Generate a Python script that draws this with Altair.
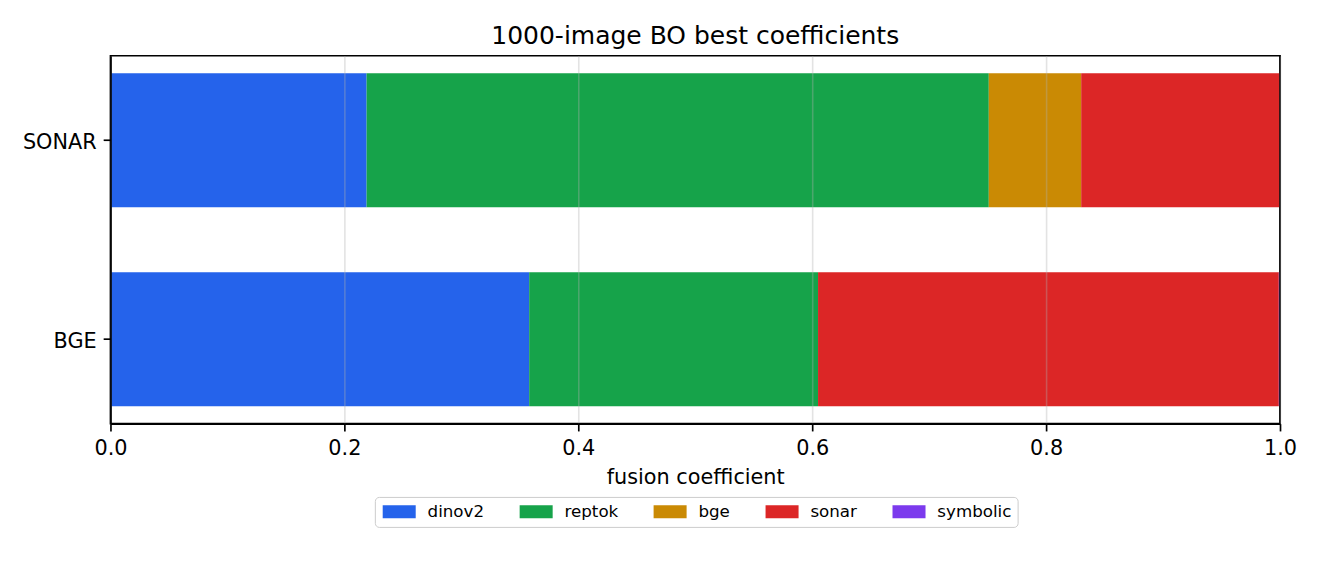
import altair as alt
import pandas as pd

MODELS = ["SONAR", "BGE"]
COMPONENTS = ["dinov2", "reptok", "bge", "sonar", "symbolic"]
COLORS = ["#2563eb", "#16a34a", "#ca8a04", "#dc2626", "#7c3aed"]

# best fusion coefficients per model, in component order
SONAR_COEFS = [0.219, 0.532, 0.079, 0.170, 0.0]
BGE_COEFS = [0.358, 0.247, 0.0, 0.394, 0.001]

X_TICKS = [0.0, 0.2, 0.4, 0.6, 0.8, 1.0]
FONT = "DejaVu Sans"

rows = []
for model, coefs in zip(MODELS, [SONAR_COEFS, BGE_COEFS]):
    for i, (comp, val) in enumerate(zip(COMPONENTS, coefs)):
        rows.append({"model": model, "component": comp, "coef": val, "idx": i})
df = pd.DataFrame(rows)

bars = (
    alt.Chart(df)
    .mark_bar(strokeWidth=0)
    .encode(
        x=alt.X(
            "coef:Q",
            stack="zero",
            scale=alt.Scale(domain=[0, 1], nice=False),
            axis=alt.Axis(
                values=X_TICKS,
                format=".1f",
                title="fusion coefficient",
                grid=True,
                zindex=1,
                labelFlush=False,
                labelPadding=8,
                titlePadding=9,
            ),
        ),
        y=alt.Y(
            "model:N",
            sort=MODELS,
            scale=alt.Scale(paddingInner=0.3266, paddingOuter=0.0878),
            axis=alt.Axis(title=None, grid=False, zindex=1, labelPadding=7, labelOffset=2.5),
        ),
        color=alt.Color(
            "component:N",
            scale=alt.Scale(domain=COMPONENTS, range=COLORS),
            legend=alt.Legend(
                title=None,
                orient="none",
                legendX=264.5,
                legendY=441.3,
                direction="horizontal",
                columns=5,
                # wide patch: 33 x 13 px, drawn from the entry's left edge
                symbolType="M-1,-1H4.08V1H-1Z",
                symbolSize=169,
                symbolStrokeWidth=0,
                symbolOpacity=1,
                labelFont=FONT,
                labelFontSize=16.7,
                labelColor="black",
                labelOffset=30,
                columnPadding=33,
                padding=6,
                strokeColor="#cccccc",
                fillColor="white",
                cornerRadius=4,
            ),
        ),
        order=alt.Order("idx:Q"),
    )
)

# right-hand spine, drawn over the bar ends
edge = (
    alt.Chart(pd.DataFrame({"x": [1.0]}))
    .mark_rule(color="black", strokeWidth=1.67)
    .encode(x="x:Q")
)

chart = (
    alt.layer(bars, edge)
    .properties(
        width=1170,
        height=368,
        padding={"left": 102.5, "top": 47.7, "right": 32, "bottom": 138},
        autosize=alt.AutoSizeParams(type="none"),
        title=alt.TitleParams(
            "1000-image BO best coefficients",
            font=FONT,
            fontSize=25,
            fontWeight="normal",
            color="black",
            anchor="middle",
            frame="group",
            baseline="alphabetic",
            offset=-14,
        ),
    )
    .configure_view(stroke="black", strokeWidth=1.67)
    .configure_axis(
        labelFont=FONT,
        labelFontSize=20.8,
        labelColor="black",
        titleFont=FONT,
        titleFontSize=20.8,
        titleFontWeight="normal",
        titleColor="black",
        domainColor="black",
        domainWidth=1.67,
        tickColor="black",
        tickWidth=1.67,
        tickSize=7.3,
        gridColor="#b0b0b0",
        gridOpacity=0.35,
        gridWidth=1.6,
    )
)

chart.save("out.html", embed_options={"renderer": "svg", "actions": False})
